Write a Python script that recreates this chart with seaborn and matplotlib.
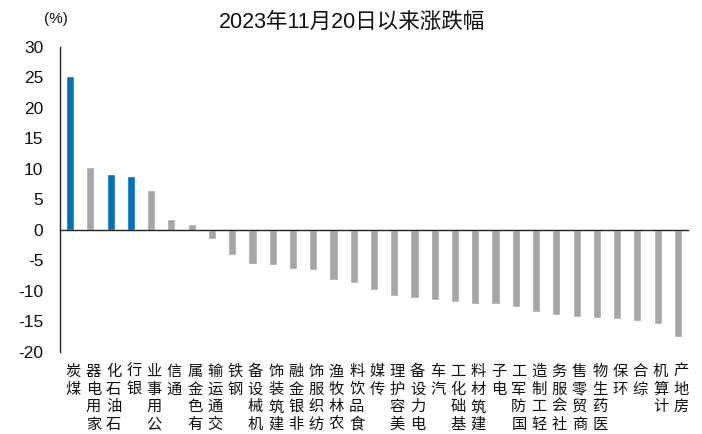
import matplotlib
matplotlib.use("Agg")
import matplotlib.pyplot as plt
import matplotlib.transforms as mtransforms
import seaborn as sns
import numpy as np

# industry return since 2023-11-20 (%)
industries = ["煤炭", "家用电器", "石油石化", "银行", "公用事业", "通信", "有色金属",
              "交通运输", "钢铁", "机械设备", "建筑装饰", "非银金融", "纺织服饰",
              "农林牧渔", "食品饮料", "传媒", "美容护理", "电力设备", "汽车",
              "基础化工", "建筑材料", "电子", "国防军工", "轻工制造", "社会服务",
              "商贸零售", "医药生物", "环保", "综合", "计算机", "房地产"]
returns = [25.2, 10.3, 9.1, 8.9, 6.6, 1.8, 1.0,
           -1.5, -4.1, -5.5, -5.7, -6.4, -6.5,
           -8.2, -8.7, -9.9, -10.9, -11.2, -11.5,
           -11.8, -12.1, -12.2, -12.7, -13.4, -14.0,
           -14.3, -14.4, -14.6, -14.9, -15.4, -17.6]
highlight = ["煤炭", "石油石化", "银行"]
y_ticks = [-20, -15, -10, -5, 0, 5, 10, 15, 20, 25, 30]

BLUE = "#0070C0"
GREY = "#A6A6A6"
CJK = ["Noto Sans CJK SC", "DejaVu Sans"]
NUM = ["Liberation Sans Narrow", "Liberation Sans", "Noto Sans CJK SC"]

sns.set_style("white")
plt.rcParams["font.family"] = CJK
plt.rcParams["axes.unicode_minus"] = False

fig = plt.figure(figsize=(7.02, 4.34), dpi=100)
ax = fig.add_axes([0.0855, 0.189, 0.8945, 0.7027])

palette = {name: (BLUE if name in highlight else GREY) for name in industries}
sns.barplot(x=industries, y=returns, hue=industries, palette=palette,
            width=0.4, legend=False, saturation=1, ax=ax)

ax.set_xlim(-0.5, len(industries) - 0.5)
ax.set_ylim(-20, 30)
ax.set_yticks(y_ticks)
ax.set_yticklabels([str(v) for v in y_ticks], fontsize=12.5, family=NUM)
ax.set_xlabel("")
ax.set_ylabel("")

# spines: left axis + zero line with ticks between categories
for s in ["top", "right"]:
    ax.spines[s].set_visible(False)
ax.spines["bottom"].set_position(("data", 0))
for s in ["left", "bottom"]:
    ax.spines[s].set_color("#222222")
    ax.spines[s].set_linewidth(1.0)
ax.tick_params(axis="y", direction="out", length=4, width=1, color="#222222",
               pad=8, labelcolor="#111111")
ax.set_xticks(np.arange(len(industries)))
ax.set_xticklabels([])
ax.tick_params(axis="x", which="major", length=0)
ax.set_xticks(np.arange(len(industries)) + 0.5, minor=True)
ax.tick_params(axis="x", which="minor", direction="out", length=4, width=1, color="#222222")

# vertical stacked category labels below the plot
trans = mtransforms.blended_transform_factory(ax.transData, ax.transAxes)
for i, name in enumerate(industries):
    ax.text(i + 0.15, -0.036, "\n".join(reversed(name)), transform=trans,
            ha="center", va="top", fontsize=11, linespacing=1.05, color="#111111")

fig.text(0.501, 0.949, "2023年11月20日以来涨跌幅", ha="center", va="center",
         fontsize=15.5, family=NUM, color="#111111")
fig.text(0.080, 0.956, "(%)", ha="center", va="center", fontsize=11,
         family=["Liberation Sans"], color="#111111")

fig.savefig("out.png", dpi=100)
